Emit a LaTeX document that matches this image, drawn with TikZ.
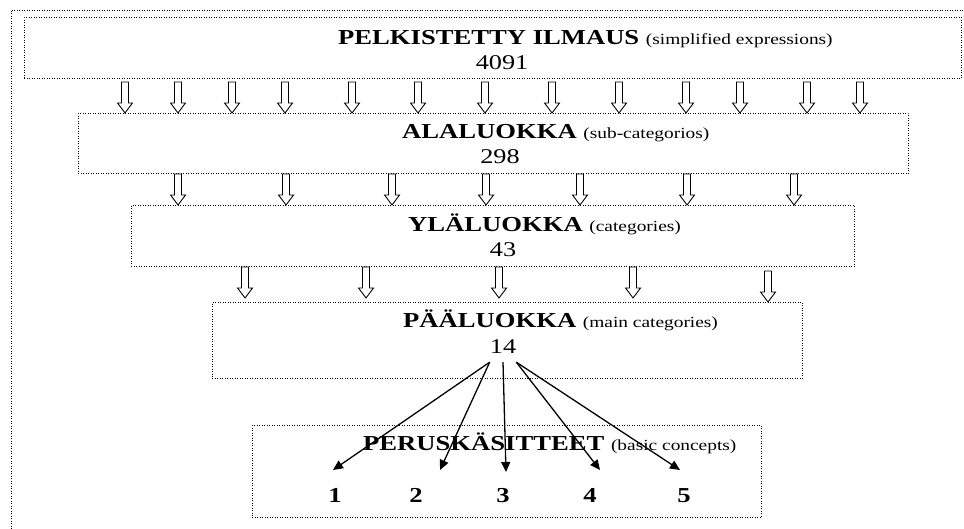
\documentclass[tikz,border=0pt]{standalone}
\usepackage{fontspec}
\setmainfont{Liberation Serif}
\newfontfamily\widefont[FakeStretch=1.25]{Liberation Serif}
\usetikzlibrary{arrows.meta}

\newcommand{\headfont}{\widefont\bfseries\fontsize{21.3}{24}\selectfont}
\newcommand{\notefont}{\widefont\mdseries\fontsize{15.5}{18}\selectfont}
\newcommand{\countfont}{\widefont\mdseries\fontsize{21}{24}\selectfont}

\tikzset{
  dotline/.style={line width=0.9pt, dash pattern=on 0.9pt off 1.6pt},
  dotbox/.style={dotline, draw, inner sep=0pt, anchor=north west},
  txt/.style={inner sep=0pt},
  conn/.style={line width=1.3pt, -{Triangle[length=10pt,width=9pt]}},
  hollow down/.pic={
    \draw[line width=0.9pt, fill=white] (-3.5,0) -- (-3.5,21) -- (-7.5,21)
      -- (0,31) -- (7.5,21) -- (3.5,21) -- (3.5,0) -- cycle;
  }
}

\begin{document}
\begin{tikzpicture}[x=1pt,y=-1pt]
  \useasboundingbox (0,0) rectangle (964,529);
  % outer frame
  \draw[dotline] (11,529) |- (964,10);

  % the five levels
  \node[dotbox, minimum width=937pt, minimum height=61pt] (lvl_1) at (24,17) {};
  \node[dotbox, minimum width=830pt, minimum height=60pt] (lvl_2) at (78,113) {};
  \node[dotbox, minimum width=723pt, minimum height=61pt] (lvl_3) at (131,205) {};
  \node[dotbox, minimum width=590pt, minimum height=76pt] (lvl_4) at (212,302) {};
  \node[dotbox, minimum width=509pt, minimum height=92pt] (lvl_5) at (252,425) {};

  \node[txt, anchor=base west] (h_1) at (338,45) {\headfont PELKISTETTY ILMAUS {\notefont (simplified expressions)}};
  \node[txt, anchor=base] (c_1) at (502,70) {\countfont 4091};

  \node[txt, anchor=base west] (h_2) at (402,139) {\headfont ALALUOKKA {\notefont (sub-categorios)}};
  \node[txt, anchor=base] (c_2) at (500,164) {\countfont 298};

  \node[txt, anchor=base west] (h_3) at (408,232) {\headfont YLÄLUOKKA {\notefont (categories)}};
  \node[txt, anchor=base] (c_3) at (503,257) {\countfont 43};

  \node[txt, anchor=base west] (h_4) at (403,328) {\headfont PÄÄLUOKKA {\notefont (main categories)}};
  \node[txt, anchor=base] (c_4) at (503,353) {\countfont 14};

  \node[txt, anchor=base west] (h_5) at (363,450) {\headfont PERUSKÄSITTEET {\notefont (basic concepts)}};
  \foreach \x [count=\i] in {335,416,503,590,684}
    \node[txt, anchor=base] (k_\i) at (\x,502) {\headfont\i};

  % hollow arrows between the levels
  \foreach \x in {125,178,232,285,352,418,485,552,619,686,740,807,860}
    \pic at (\x,82) {hollow down};
  \foreach \x in {178,286,392,486,580,687,794}
    \pic at (\x,174) {hollow down};
  \foreach \x in {245,366,499,633}
    \pic at (\x,267) {hollow down};
  \pic at (768,271) {hollow down};

  % from the main categories down to the basic concepts
  \coordinate (t_1) at (333,470);
  \coordinate (t_2) at (440,470);
  \coordinate (t_3) at (506,472);
  \coordinate (t_4) at (600,470);
  \coordinate (t_5) at (680,470);
  \draw[conn] ([yshift=-9pt]c_4.south west) -- (t_1);
  \draw[conn] ([yshift=-9pt]c_4.south west) -- (t_2);
  \draw[conn] ([yshift=-9pt]c_4.south) -- (t_3);
  \draw[conn] ([yshift=-9pt]c_4.south east) -- (t_4);
  \draw[conn] ([yshift=-9pt]c_4.south east) -- (t_5);
\end{tikzpicture}
\end{document}
